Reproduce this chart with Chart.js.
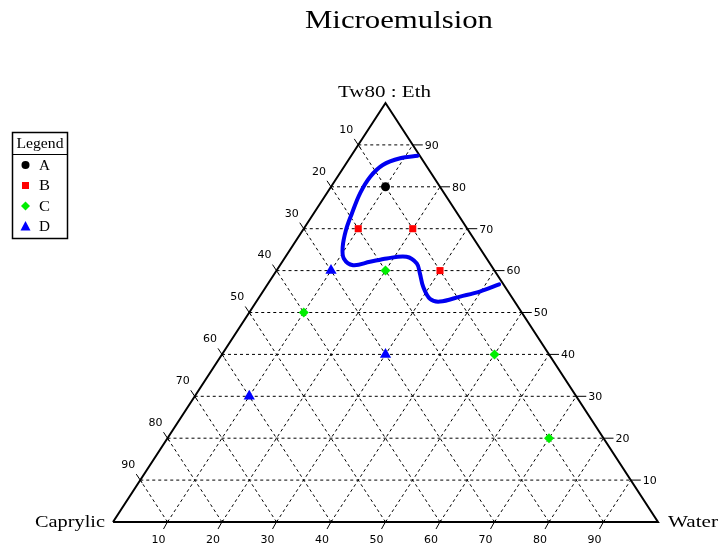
<!DOCTYPE html>
<html>
<head>
<meta charset="utf-8">
<script src="https://cdn.jsdelivr.net/npm/chart.js@4/dist/chart.umd.min.js"></script>
<style>
  html, body { margin: 0; padding: 0; background: #fff; }
  #wrap { width: 721px; height: 546px; }
</style>
</head>
<body>
<div id="wrap"><canvas id="myChart" width="721" height="546"></canvas></div>
<script>
// grid / tick values (percent)
const gridTicks = [10, 20, 30, 40, 50, 60, 70, 80, 90];

// series: Tw80:Eth % and Water % (Caprylic = rest)
const tw80A = [80], waterA = [10];
const tw80B = [70, 70, 60], waterB = [10, 20, 30];
const tw80C = [60, 50, 40, 20], waterC = [20, 10, 50, 70];
const tw80D = [60, 40, 30], waterD = [10, 30, 10];

// boundary curve
const tw80Curve = [87.4, 86.8, 85.2, 82.4, 78.5, 73.7, 69.7, 65.7, 62.9, 61.3, 62.1, 62.9, 63.3, 61.7, 59.4, 56.2, 53.2, 52.6, 53.8, 55.0, 56.7];
const waterCurve = [12.2, 9.3, 6.9, 6.0, 6.1, 7.0, 7.9, 9.3, 10.9, 13.4, 16.1, 18.8, 22.2, 24.9, 26.6, 28.8, 31.6, 33.7, 36.8, 39.8, 42.5];

// ternary -> plot coords
function tern(t, w) {
  return { x: w + t / 2, y: t };
}
function series(ts, ws) {
  return ts.map((t, i) => tern(t, ws[i]));
}

const gridLines = [];
gridTicks.forEach((v) => {
  gridLines.push(tern(v, 0), tern(v, 100 - v), { x: null, y: null });
  gridLines.push(tern(0, v), tern(100 - v, v), { x: null, y: null });
  gridLines.push(tern(0, 100 - v), tern(100 - v, 0), { x: null, y: null });
});
const edges = [tern(0, 0), tern(0, 100), tern(100, 0), tern(0, 0)];

const legendItems = [
  { label: "A", color: "#000000", style: "circle" },
  { label: "B", color: "#ff0000", style: "rect" },
  { label: "C", color: "#00ee00", style: "diamond" },
  { label: "D", color: "#0000ff", style: "triangle" },
];

function marker(ctx, style, x, y, color) {
  ctx.fillStyle = color;
  ctx.beginPath();
  if (style == "circle") ctx.arc(x, y, 4, 0, Math.PI * 2);
  else if (style == "rect") ctx.rect(x - 3.5, y - 3.5, 7, 7);
  else if (style == "diamond") {
    ctx.moveTo(x, y - 4.5); ctx.lineTo(x + 4.5, y); ctx.lineTo(x, y + 4.5); ctx.lineTo(x - 4.5, y);
  } else {
    ctx.moveTo(x, y - 5.5); ctx.lineTo(x + 5, y + 4); ctx.lineTo(x - 5, y + 4);
  }
  ctx.closePath();
  ctx.fill();
}

// draw text stretched to a given width (the original serif is wider)
function wideText(ctx, text, x, y, width, align) {
  const w = ctx.measureText(text).width;
  const k = width / w;
  let left = x;
  if (align == "center") left = x - width / 2;
  else if (align == "right") left = x - width;
  ctx.save();
  ctx.translate(left, y);
  ctx.scale(k, 1);
  ctx.textAlign = "left";
  ctx.fillText(text, 0, 0);
  ctx.restore();
}

const ternaryPlugin = {
  id: "ternary",
  afterDatasetsDraw(chart) {
    const ctx = chart.ctx;
    const xs = chart.scales.x, ys = chart.scales.y;
    const px = (p) => [xs.getPixelForValue(p.x), ys.getPixelForValue(p.y)];
    ctx.save();
    ctx.strokeStyle = "#000";
    ctx.lineWidth = 1;
    ctx.fillStyle = "#000";
    ctx.font = "11px 'DejaVu Sans'";
    gridTicks.forEach((v) => {
      // right side: Tw80
      let [x, y] = px(tern(v, 100 - v));
      ctx.beginPath(); ctx.moveTo(x, y); ctx.lineTo(x + 10, y); ctx.stroke();
      ctx.textAlign = "left"; ctx.textBaseline = "middle";
      ctx.fillText(String(v), x + 12, y + 1);
      // left side: Caprylic
      [x, y] = px(tern(100 - v, 0));
      ctx.beginPath(); ctx.moveTo(x + 2, y + 3); ctx.lineTo(x - 4, y - 6); ctx.stroke();
      ctx.textAlign = "center";
      ctx.fillText(String(v), x - 12, y - 15);
      // bottom: Water
      [x, y] = px(tern(0, v));
      ctx.beginPath(); ctx.moveTo(x + 1, y - 2); ctx.lineTo(x - 4, y + 7); ctx.stroke();
      ctx.fillText(String(v), x - 9, y + 18);
    });

    ctx.font = "17px 'Liberation Serif'";
    ctx.textBaseline = "middle";
    let [tx, ty] = px(tern(100, 0));
    wideText(ctx, "Tw80 : Eth", tx - 1, ty - 10, 93, "center");
    [tx, ty] = px(tern(0, 0));
    wideText(ctx, "Caprylic", tx - 8, ty + 1, 70, "right");
    [tx, ty] = px(tern(0, 100));
    wideText(ctx, "Water", tx + 10, ty + 1, 50, "left");

    ctx.font = "26px 'Liberation Serif'";
    wideText(ctx, "Microemulsion", 399, 21, 188, "center");

    // legend box
    ctx.lineWidth = 1.5;
    ctx.strokeRect(12.5, 132.5, 55, 106);
    ctx.lineWidth = 1;
    ctx.beginPath(); ctx.moveTo(12, 154.5); ctx.lineTo(68, 154.5); ctx.stroke();
    ctx.font = "14px 'Liberation Serif'";
    wideText(ctx, "Legend", 40, 144, 47, "center");
    legendItems.forEach((it, i) => {
      const y = 165 + i * 20.5;
      marker(ctx, it.style, 25.5, y, it.color);
      ctx.fillStyle = "#000";
      wideText(ctx, it.label, 39, y + 1, 11, "left");
    });
    ctx.restore();
  },
};

const ctx = document.getElementById("myChart").getContext("2d");
const myChart = new Chart(ctx, {
  type: "scatter",
  data: {
    datasets: [
      { label: "A", data: series(tw80A, waterA), order: 0, pointStyle: "circle", pointRadius: 4.5, backgroundColor: "#000", borderWidth: 0 },
      { label: "B", data: series(tw80B, waterB), order: 0, pointStyle: "rect", pointRadius: 5, backgroundColor: "#ff0000", borderWidth: 0 },
      { label: "C", data: series(tw80C, waterC), order: 0, pointStyle: "rectRot", pointRadius: 5, backgroundColor: "#00ee00", borderWidth: 0 },
      { label: "D", data: series(tw80D, waterD), order: 0, pointStyle: "triangle", pointRadius: 6.5, backgroundColor: "#0000ff", borderWidth: 0 },
      { label: "curve", data: series(tw80Curve, waterCurve), order: 1, showLine: true, tension: 0.35, borderColor: "#0000f0", borderWidth: 4, pointRadius: 0, borderCapStyle: "round" },
      { label: "edges", data: edges, order: 2, showLine: true, borderColor: "#000", borderWidth: 2, pointRadius: 0, tension: 0 },
      { label: "grid", data: gridLines, order: 3, showLine: true, spanGaps: false, borderColor: "#000", borderWidth: 1, borderDash: [3, 3], pointRadius: 0, tension: 0 },
    ],
  },
  options: {
    responsive: false,
    animation: false,
    events: [],
    layout: { padding: { left: 113, right: 63, top: 103, bottom: 24 } },
    scales: {
      x: { type: "linear", min: 0, max: 100, display: false },
      y: { type: "linear", min: 0, max: 100, display: false },
    },
    plugins: {
      legend: { display: false },
      tooltip: { enabled: false },
    },
    elements: { point: { hoverRadius: 0 } },
    clip: false,
  },
  plugins: [ternaryPlugin],
});
</script>
</body>
</html>
